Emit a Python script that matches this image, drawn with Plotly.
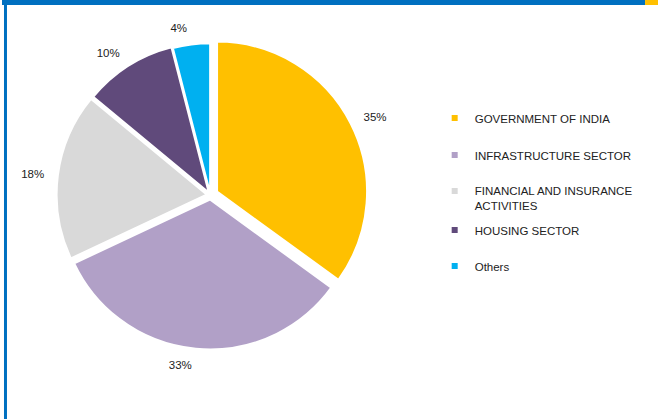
import plotly.graph_objects as go

labels = ["GOVERNMENT OF INDIA", "INFRASTRUCTURE SECTOR",
          "FINANCIAL AND INSURANCE<br>ACTIVITIES", "HOUSING SECTOR", "Others"]
values = [35, 33, 18, 10, 4]
colors = ["#FFC000", "#B1A0C7", "#D9D9D9", "#604A7B", "#00B0F0"]
pulls = [0.05, 0.03, 0.025, 0.02, 0.012]
legend_y = [118, 155, 191, 230, 266]

W, H = 658, 419
cx, cy, half = 209, 195, 158
half_lbl = half + 11
FONT = "Liberation Sans, Arial, sans-serif"

fig = go.Figure()
# invisible larger pie that only carries the outside percentage labels
fig.add_trace(go.Pie(
    labels=labels, values=values, sort=False, direction="clockwise", rotation=0,
    marker=dict(colors=["rgba(0,0,0,0)"] * len(values), line=dict(width=0)),
    pull=pulls, textinfo="percent", textposition="outside",
    textfont=dict(family=FONT, size=11.5, color="#222222"),
    showlegend=False, hoverinfo="skip",
    domain=dict(x=[(cx - half_lbl) / W, (cx + half_lbl) / W],
                y=[(H - cy - half_lbl) / H, (H - cy + half_lbl) / H]),
))
fig.add_trace(go.Pie(
    labels=labels, values=values, sort=False, direction="clockwise", rotation=0,
    marker=dict(colors=colors, line=dict(color="white", width=2)),
    pull=pulls, textinfo="none",
    showlegend=False, hoverinfo="label+percent",
    domain=dict(x=[(cx - half) / W, (cx + half) / W],
                y=[(H - cy - half) / H, (H - cy + half) / H]),
))

legend_layout = {}
for i, (lab, col, ly) in enumerate(zip(labels, colors, legend_y)):
    lname = "legend" if i == 0 else f"legend{i + 1}"
    fig.add_trace(go.Scatter(
        x=[None], y=[None], mode="markers", name=lab, legend=lname,
        marker=dict(symbol="square", size=6, color=col), showlegend=True,
    ))
    legend_layout[lname] = dict(
        x=434 / W, y=1 - (ly - 14) / H, xanchor="left", yanchor="top",
        font=dict(family=FONT, size=11.5, color="#222222"),
        valign="top", itemwidth=30, bgcolor="rgba(0,0,0,0)",
    )

fig.update_layout(
    width=W, height=H, margin=dict(l=0, r=0, t=0, b=0),
    paper_bgcolor="white", plot_bgcolor="white",
    xaxis=dict(visible=False), yaxis=dict(visible=False),
    shapes=[
        dict(type="rect", xref="paper", yref="paper", x0=0, x1=645 / W,
             y0=1 - 5 / H, y1=1, fillcolor="#0070C0", line=dict(width=0),
             layer="above"),
        dict(type="rect", xref="paper", yref="paper", x0=645 / W, x1=1,
             y0=1 - 5 / H, y1=1, fillcolor="#FFC000", line=dict(width=0),
             layer="above"),
        dict(type="rect", xref="paper", yref="paper", x0=2 / W, x1=5 / W,
             y0=0, y1=1, fillcolor="#0070C0", line=dict(width=0),
             layer="above"),
    ],
    **legend_layout,
)
fig.write_html("out.html", config={"displayModeBar": False},
               post_script="document.body.style.margin='0';")
